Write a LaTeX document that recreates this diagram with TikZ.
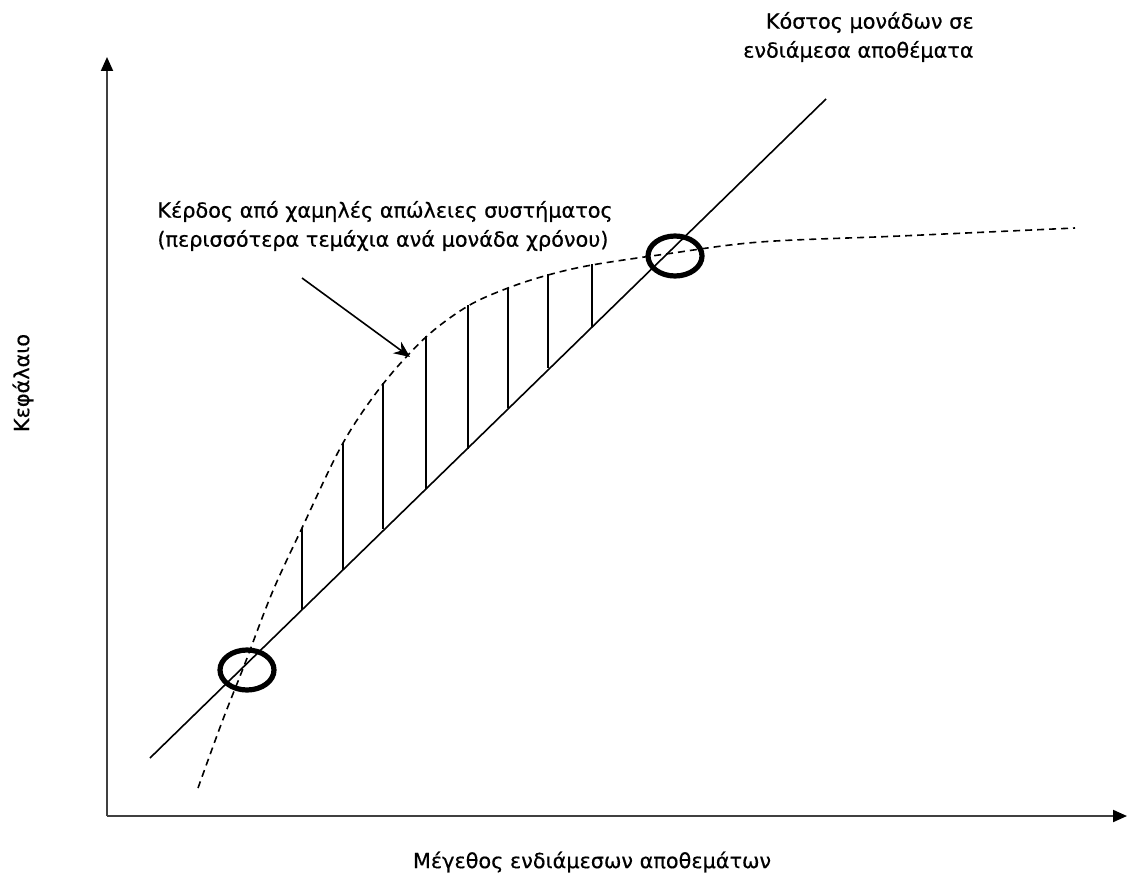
\documentclass[tikz,border=0pt]{standalone}
\usepackage{fontspec}
\setmainfont{DejaVu Sans}
\newfontfamily\labelfont{DejaVu Sans}[FakeBold=0.5]
\usetikzlibrary{arrows.meta,shapes.geometric}
\begin{document}
\begin{tikzpicture}[x=0.5pt,y=-0.5pt,
  axis/.style={line width=1pt, draw=black!75, -{Triangle[length=7pt,width=6pt,fill=black,color=black]}},
  costline/.style={line width=0.8pt},
  gaincurve/.style={line width=0.8pt, dash pattern=on 3.5pt off 2.5pt},
  hatch/.style={line width=0.8pt},
  marker/.style={draw, ellipse, line width=2.6pt, minimum width=27pt, minimum height=20pt, inner sep=0pt},
  txt/.style={font=\labelfont\fontsize{10.4}{14.5}\selectfont, inner sep=0pt},
  pointer/.style={line width=0.8pt, -{Stealth[length=8pt,width=7pt]}}]
\useasboundingbox (0,0) rectangle (1128,888);

% axes
\coordinate (origin) at (107,816);
\coordinate (ytip) at (107,57);
\coordinate (xtip) at (1127,816);
\draw[axis] (origin) -- (ytip);
\draw[axis] (origin) -- (xtip);

% unit cost of intermediate stocks (straight line)
\coordinate (cstart) at (150,758);
\coordinate (cend) at (826,99);
\draw[costline] (cstart) -- (cend);

% gain curve (dashed)
\draw[gaincurve] plot[smooth, tension=0.55] coordinates {
  (198,788) (222,722) (244,666) (272,593) (302,528) (343,443) (383,384)
  (426,337) (468,306) (508,288) (548,275) (592,265) (666,254) (760,242)
  (900,236) (1075,228)};

% vertical hatching between the two curves
\foreach \hx/\ht/\hb in {302/528/610, 343/443/570, 383/383/529, 426/336/489,
                         468/305/449, 508/288/408, 548/274/368, 592/264/327}
  \draw[hatch] (\hx,\ht) -- (\hx,\hb);

% break-even markers
\node[marker] (lowmark) at (247,670) {};
\node[marker] (highmark) at (675,256) {};

% labels
\node[txt, align=right, anchor=east] (costlbl) at (974,37)
  {Κόστος μονάδων σε\\ενδιάμεσα αποθέματα};
\node[txt, align=left, anchor=west] (gainlbl) at (157,226)
  {Κέρδος από χαμηλές απώλειες συστήματος\\(περισσότερα τεμάχια ανά μονάδα χρόνου)};
\node[txt, rotate=90] (ylbl) at (23,383) {Κεφάλαιο};
\node[txt] (xlbl) at (592,862) {Μέγεθος ενδιάμεσων αποθεμάτων};

% pointer to the gain area
\coordinate (ptail) at (302,278);
\coordinate (ptip) at (410,357);
\draw[pointer] (ptail) -- (ptip);
\end{tikzpicture}
\end{document}
